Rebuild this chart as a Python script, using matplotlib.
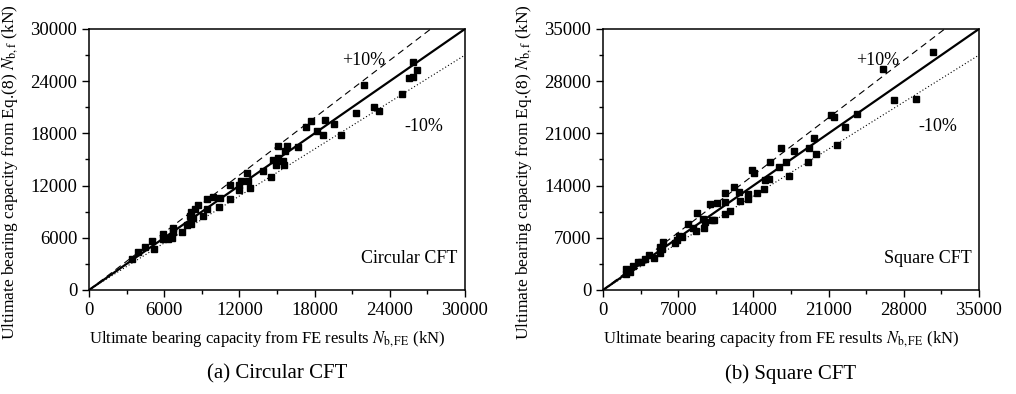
import matplotlib
matplotlib.use("Agg")
import matplotlib.pyplot as plt
from matplotlib.ticker import MultipleLocator

plt.rcParams['font.family'] = ['Liberation Serif', 'DejaVu Serif']
plt.rcParams['mathtext.fontset'] = 'stix'

# (a) circular CFT: FE result vs Eq.(8)
circ_fe = [25880, 26200, 25830, 25540, 25000, 21950, 22720, 23120, 21280, 17290,
           17710, 18830, 19580, 18190, 18700, 20140, 15110, 15800, 15640, 16680,
           14660, 15110, 15450, 14920, 15560, 14550, 13860, 12640, 12710, 12820,
           12100, 12000, 11280, 11970, 11250, 10450, 9870, 9390, 10400, 8700,
           8460, 8110, 8270, 8060, 9390, 9120, 8140, 7790, 7420, 6700,
           6730, 6620, 5900, 5880, 6280, 5000, 5160, 4440, 3940, 3400]
circ_eq = [26160, 25240, 24470, 24320, 22520, 23520, 20980, 20560, 20370, 18760,
           19370, 19560, 19100, 18220, 17760, 17760, 16570, 16500, 16030, 16380,
           14960, 15190, 14810, 14350, 14350, 13040, 13690, 13500, 12580, 11700,
           12580, 12080, 12080, 11470, 10470, 10630, 10740, 10470, 9590, 9740,
           9280, 8980, 8250, 8520, 9360, 8520, 7600, 7480, 6710, 7170,
           6710, 6020, 6410, 5870, 5870, 5640, 4760, 4990, 4330, 3610]

# (b) square CFT
sq_fe = [30750, 26100, 27060, 29110, 23640, 21260, 21470, 22560, 21810, 19670,
         19180, 19860, 19120, 17810, 16600, 17000, 16350, 17350, 15520, 15420,
         15050, 14960, 14340, 13900, 14060, 13530, 13530, 12660, 12230, 12780,
         11360, 11360, 11820, 11360, 10580, 9930, 10330, 10180, 8780, 9280,
         9530, 9400, 8690, 8380, 7880, 7390, 7040, 6890, 6670, 5550,
         5460, 5340, 5280, 4750, 4280, 3910, 3540, 3260, 2790, 2170,
         2170, 2500]
sq_eq = [31870, 29630, 25420, 25560, 23630, 23410, 23140, 21840, 19470, 20410,
         18980, 18220, 17190, 18620, 19020, 17190, 16520, 15310, 17190, 14820,
         14770, 13520, 13070, 16110, 15670, 12850, 12180, 13120, 13830, 11910,
         12980, 11860, 10560, 10160, 11640, 11550, 9400, 9440, 10300, 9580,
         9130, 8330, 7880, 8280, 8860, 7120, 7300, 6710, 6270, 6490,
         5550, 5010, 5820, 4340, 4740, 4210, 3760, 3720, 3270, 2780,
         2150, 2400]

panels = [
    (circ_fe, circ_eq, 30000, 6000, "Circular CFT", "(a) Circular CFT", 0.0876),
    (sq_fe, sq_eq, 35000, 7000, "Square CFT", "(b) Square CFT", 0.5935),
]

fig = plt.figure(figsize=(10.16, 3.94), dpi=100)

for fe, eq, lim, step, name, caption, x0 in panels:
    ax = fig.add_axes([x0, 0.264, 0.370, 0.6624])
    ref = [0, lim * 1.2]
    ax.plot(ref, ref, color='black', lw=1.6)
    ax.plot(ref, [v * 1.1 for v in ref], color='black', lw=0.8, ls=(0, (6, 4)))
    ax.plot(ref, [v * 0.9 for v in ref], color='black', lw=0.8, ls=(0, (1, 2)))
    ax.plot(fe, eq, 's', color='black', ms=4.5, ls='none')

    ax.set_xlim(0, lim)
    ax.set_ylim(0, lim)
    ax.xaxis.set_major_locator(MultipleLocator(step))
    ax.yaxis.set_major_locator(MultipleLocator(step))
    ax.xaxis.set_minor_locator(MultipleLocator(step / 2))
    ax.yaxis.set_minor_locator(MultipleLocator(step / 2))
    ax.tick_params(which='major', direction='out', length=5, width=1, labelsize=13.5)
    ax.tick_params(which='minor', direction='out', length=3, width=1)
    for s in ax.spines.values():
        s.set_linewidth(1.1)

    ax.set_xlabel(r"Ultimate bearing capacity from FE results $\mathit{N}_{\rm b,FE}$ (kN)",
                  fontsize=12)
    ax.xaxis.set_label_coords(0.475, -0.15)
    ax.set_ylabel(r"Ultimate bearing capacity from Eq.(8) $\mathit{N}_{\rm b,f}$ (kN)",
                  fontsize=12.5)
    ax.yaxis.set_label_coords(-0.183, 0.45)

    ax.text(0.73, 0.88, "+10%", transform=ax.transAxes, fontsize=13, ha='center', va='center')
    ax.text(0.89, 0.625, "-10%", transform=ax.transAxes, fontsize=13, ha='center', va='center')
    ax.text(0.98, 0.12, name, transform=ax.transAxes, fontsize=13, ha='right', va='center')

    fig.text(x0 + 0.185, 0.05, caption, fontsize=15, ha='center', va='center')

fig.savefig("out.png", dpi=100)
